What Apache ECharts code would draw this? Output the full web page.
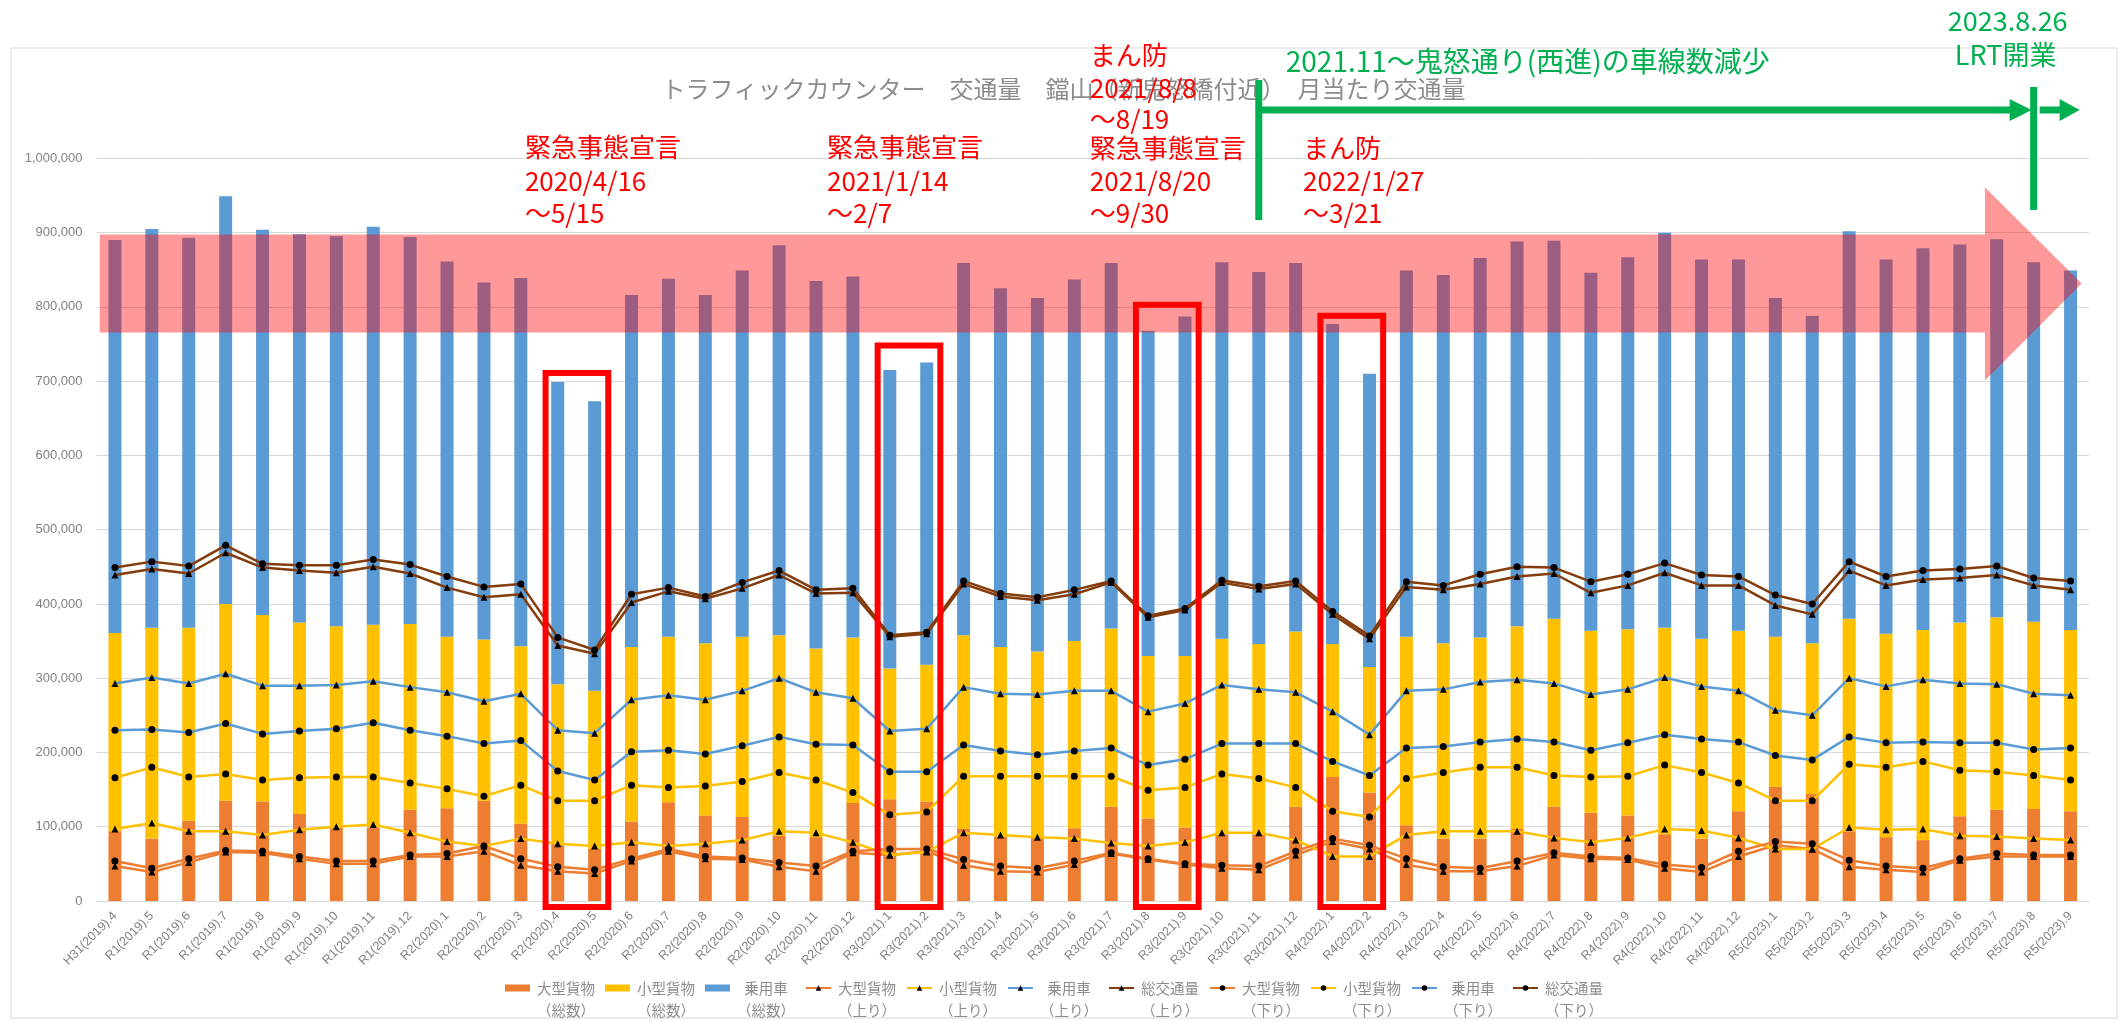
<!DOCTYPE html>
<html><head><meta charset="utf-8">
<script src="https://cdn.jsdelivr.net/npm/echarts@6/dist/echarts.min.js"></script>
<style>html,body{margin:0;padding:0;background:#fff}#c{width:2127px;height:1022px}</style>
</head><body><div id="c"></div>
<script>
const categories = ['H31(2019).4','R1(2019).5','R1(2019).6','R1(2019).7','R1(2019).8','R1(2019).9','R1(2019).10','R1(2019).11','R1(2019).12',
'R2(2020).1','R2(2020).2','R2(2020).3','R2(2020).4','R2(2020).5','R2(2020).6','R2(2020).7','R2(2020).8','R2(2020).9','R2(2020).10','R2(2020).11','R2(2020).12',
'R3(2021).1','R3(2021).2','R3(2021).3','R3(2021).4','R3(2021).5','R3(2021).6','R3(2021).7','R3(2021).8','R3(2021).9','R3(2021).10','R3(2021).11','R3(2021).12',
'R4(2022).1','R4(2022).2','R4(2022).3','R4(2022).4','R4(2022).5','R4(2022).6','R4(2022).7','R4(2022).8','R4(2022).9','R4(2022).10','R4(2022).11','R4(2022).12',
'R5(2023).1','R5(2023).2','R5(2023).3','R5(2023).4','R5(2023).5','R5(2023).6','R5(2023).7','R5(2023).8','R5(2023).9'];

// 総数 (stacked bars)
const largeTotal = [94000,84000,108000,135000,134000,117000,99000,99000,123000,125000,135000,104000,78000,70000,107000,133000,115000,113000,88000,86000,132000,137000,134000,97000,87000,86000,98000,127000,111000,99000,90000,90000,127000,167000,146000,102000,84000,84000,97000,127000,119000,115000,90000,84000,121000,154000,144000,94000,86000,82000,114000,123000,124000,121000];
const smallTotal = [267000,284000,260000,265000,251000,258000,271000,273000,250000,231000,217000,239000,214000,213000,235000,223000,232000,243000,270000,254000,223000,176000,184000,261000,255000,250000,252000,240000,219000,231000,263000,256000,236000,179000,169000,254000,263000,271000,273000,253000,245000,251000,278000,269000,243000,202000,203000,286000,274000,283000,261000,259000,252000,244000];
const carTotal = [529000,537000,525000,549000,519000,523000,525000,536000,521000,505000,481000,496000,407000,390000,474000,482000,469000,493000,525000,495000,486000,402000,407000,501000,483000,476000,487000,492000,438000,457000,507000,501000,496000,431000,395000,493000,496000,511000,518000,509000,482000,501000,532000,511000,500000,456000,441000,522000,504000,514000,509000,509000,484000,484000];

// 上り
const largeUp = [47000,39000,52000,66000,65000,57000,50000,50000,60000,60000,67000,48000,40000,37000,54000,67000,57000,56000,46000,40000,65000,62000,67000,48000,40000,39000,49000,64000,56000,49000,44000,42000,62000,80000,70000,49000,40000,40000,47000,62000,57000,56000,44000,39000,60000,75000,70000,46000,42000,39000,55000,60000,60000,60000];
const smallUp = [97000,105000,94000,94000,89000,96000,100000,103000,92000,80000,74000,84000,77000,74000,79000,74000,77000,82000,94000,92000,79000,62000,66000,92000,89000,86000,84000,78000,74000,79000,92000,92000,82000,60000,60000,89000,94000,94000,94000,85000,79000,85000,97000,95000,85000,70000,70000,99000,96000,97000,88000,87000,84000,82000];
const carUp = [293000,301000,293000,306000,290000,290000,291000,296000,288000,281000,269000,279000,230000,226000,271000,277000,271000,283000,300000,281000,273000,229000,232000,288000,279000,278000,283000,283000,255000,266000,291000,285000,281000,255000,224000,283000,285000,295000,298000,293000,278000,285000,301000,289000,283000,257000,250000,300000,289000,298000,293000,292000,279000,277000];
const allUp = [439000,447000,441000,469000,449000,445000,442000,450000,441000,422000,409000,413000,344000,333000,402000,417000,407000,421000,439000,414000,415000,356000,360000,427000,410000,405000,413000,429000,382000,392000,429000,420000,427000,386000,353000,423000,419000,427000,437000,441000,415000,425000,442000,425000,425000,398000,386000,445000,425000,433000,435000,439000,425000,419000];

// 下り
const largeDown = [54000,44000,57000,68000,67000,60000,54000,54000,62000,64000,74000,57000,46000,42000,57000,70000,60000,58000,52000,47000,67000,70000,70000,56000,47000,44000,54000,65000,57000,50000,48000,47000,67000,84000,75000,57000,46000,44000,54000,65000,60000,58000,49000,45000,67000,80000,77000,55000,47000,44000,57000,64000,62000,62000];
const smallDown = [166000,180000,167000,171000,163000,166000,167000,167000,159000,151000,141000,156000,135000,135000,156000,153000,155000,161000,173000,163000,146000,116000,120000,168000,168000,168000,168000,168000,149000,153000,171000,165000,153000,121000,113000,165000,173000,180000,180000,169000,167000,168000,183000,173000,159000,135000,135000,184000,180000,188000,176000,174000,169000,163000];
const carDown = [230000,231000,227000,239000,225000,229000,232000,240000,230000,222000,212000,216000,175000,163000,201000,203000,198000,209000,221000,211000,210000,174000,174000,210000,202000,197000,202000,206000,183000,191000,212000,212000,212000,188000,169000,206000,208000,214000,218000,214000,203000,213000,224000,218000,214000,196000,190000,221000,213000,214000,213000,213000,204000,206000];
const allDown = [449000,457000,451000,479000,454000,452000,452000,460000,453000,437000,423000,427000,355000,338000,413000,422000,410000,429000,445000,419000,421000,358000,362000,431000,414000,409000,419000,431000,384000,394000,432000,424000,431000,390000,357000,430000,425000,440000,450000,449000,430000,440000,455000,439000,437000,412000,400000,457000,437000,445000,447000,451000,435000,431000];

const yTicks = [0,100000,200000,300000,400000,500000,600000,700000,800000,900000,1000000];

const FONT = '"Noto Sans CJK JP","Noto Sans",sans-serif';
const COL = {large:'#ED7D31', small:'#FFC000', car:'#5B9BD5', all:'#843C0C'};

function bar(name, data, color){
  return {name, type:'bar', stack:'t', data, barWidth:13, itemStyle:{color}, z:2, emphasis:{disabled:true}};
}
function line(name, data, color, sym){
  return {name, type:'line', data, symbol:sym, symbolSize:7, showSymbol:true,
    lineStyle:{color, width:2.5}, itemStyle:{color:'#000'}, z:3, emphasis:{disabled:true}};
}

const chart = echarts.init(document.getElementById('c'), null, {renderer:'canvas'});
chart.setOption({
  animation:false,
  textStyle:{fontFamily:FONT},
  title:{text:'トラフィックカウンター　交通量　鐺山（新鬼怒橋付近）　月当たり交通量', left:'center', top:77, padding:0,
    textStyle:{fontSize:24, fontWeight:'normal', color:'#8c8c8c', fontFamily:FONT}},
  grid:{left:96.5, right:38, top:158.4, bottom:121},
  legend:{left:505, top:955, padding:0, itemWidth:25, itemHeight:7, itemGap:8,
    formatter: n => { const i = n.indexOf('（'); return '{e| }\n{a|' + n.slice(0,i) + '}\n{a|' + n.slice(i) + '}'; },
    textStyle:{color:'#8c8c8c', fontSize:14.5, lineHeight:22, fontFamily:FONT,
      rich:{a:{width:62, align:'center', fontSize:14.5, color:'#8c8c8c', lineHeight:22, fontFamily:FONT},
            e:{fontSize:14, lineHeight:22}}},
    data:[
      {name:'大型貨物（総数）', icon:'rect'},{name:'小型貨物（総数）', icon:'rect'},{name:'乗用車（総数）', icon:'rect'},
      '大型貨物（上り）','小型貨物（上り）','乗用車（上り）','総交通量（上り）',
      '大型貨物（下り）','小型貨物（下り）','乗用車（下り）','総交通量（下り）']},
  xAxis:{type:'category', data:categories, boundaryGap:true,
    axisTick:{show:false}, axisLine:{lineStyle:{color:'#d9d9d9', width:1}},
    axisLabel:{interval:0, rotate:45, fontSize:12.5, color:'#808080', margin:13, fontFamily:'"Liberation Sans",Arial,sans-serif'}},
  yAxis:{type:'value', min:yTicks[0], max:yTicks[yTicks.length-1], interval:100000,
    axisLine:{show:false}, axisTick:{show:false},
    splitLine:{lineStyle:{color:'#d9d9d9', width:1}},
    axisLabel:{fontSize:13, color:'#808080', margin:14, fontFamily:'"Liberation Sans",Arial,sans-serif',
      formatter: v => v.toLocaleString('en-US')}},
  series:[
    bar('大型貨物（総数）', largeTotal, COL.large),
    bar('小型貨物（総数）', smallTotal, COL.small),
    bar('乗用車（総数）', carTotal, COL.car),
    line('大型貨物（上り）', largeUp, COL.large, 'triangle'),
    line('小型貨物（上り）', smallUp, COL.small, 'triangle'),
    line('乗用車（上り）', carUp, COL.car, 'triangle'),
    line('総交通量（上り）', allUp, COL.all, 'triangle'),
    line('大型貨物（下り）', largeDown, COL.large, 'circle'),
    line('小型貨物（下り）', smallDown, COL.small, 'circle'),
    line('乗用車（下り）', carDown, COL.car, 'circle'),
    line('総交通量（下り）', allDown, COL.all, 'circle')
  ]
});

// ---- annotations placed through the axes' scales ----
const x0 = chart.convertToPixel({xAxisIndex:0}, 0);
const step = chart.convertToPixel({xAxisIndex:0}, 1) - x0;
const xf = f => x0 + f*step;
const yv = v => chart.convertToPixel({yAxisIndex:0}, v);

const RED = '#ff0000', GREEN = '#00b050';
const g = [];
// frame
g.push({type:'rect', z:0, silent:true, shape:{x:11, y:48, width:2106, height:970}, style:{fill:'none', stroke:'#d9d9d9', lineWidth:1}});
// pink arrow
g.push({type:'polygon', z:50, silent:true, shape:{points:[
  [xf(-0.41), yv(897500)], [xf(50.68), yv(897500)], [xf(50.68), yv(961000)], [xf(53.3), yv(831500)],
  [xf(50.68), yv(701000)], [xf(50.68), yv(765500)], [xf(-0.41), yv(765500)]]},
  style:{fill:'rgba(255,0,0,0.4)'}});
// red boxes
[[12,711000],[21,748000],[28,803000],[33,788000]].forEach(([i,top]) => {
  const xa = xf(i-0.33), xb = xf(i+1.37), ya = yv(top), yb = yv(-8000);
  g.push({type:'rect', z:60, silent:true, shape:{x:xa, y:ya, width:xb-xa, height:yb-ya},
    style:{fill:'none', stroke:RED, lineWidth:6}});
});
// texts
function txt(t, x, y, color, size, align){
  g.push({type:'text', z:70, silent:true, x, y, style:{text:t, fill:color, font:size+'px '+FONT, align:align||'left', verticalAlign:'middle'}});
}
const redBlocks = [
  [11.11, [[147,'緊急事態宣言'],[181,'2020/4/16'],[213,'～5/15']]],
  [19.30, [[147,'緊急事態宣言'],[181,'2021/1/14'],[213,'～2/7']]],
  [26.42, [[55,'まん防'],[88,'2021/8/8'],[119,'～8/19'],[148,'緊急事態宣言'],[181,'2021/8/20'],[213,'～9/30']]],
  [32.20, [[148,'まん防'],[181,'2022/1/27'],[213,'～3/21']]]
];
redBlocks.forEach(([f, lines]) => lines.forEach(([y,t]) => txt(t, xf(f), y, RED, 26)));

// green arrows
const xg1 = xf(31), xg2 = xf(52), ya = 110;
g.push({type:'line', z:80, silent:true, shape:{x1:xg1, y1:80, x2:xg1, y2:220}, style:{stroke:GREEN, lineWidth:7}});
g.push({type:'line', z:80, silent:true, shape:{x1:xg1, y1:ya, x2:xg2-22, y2:ya}, style:{stroke:GREEN, lineWidth:7}});
g.push({type:'polygon', z:80, silent:true, shape:{points:[[xg2-24, ya-11],[xg2-2, ya],[xg2-24, ya+11]]}, style:{fill:GREEN}});
g.push({type:'line', z:80, silent:true, shape:{x1:xg2, y1:87, x2:xg2, y2:210}, style:{stroke:GREEN, lineWidth:7}});
g.push({type:'line', z:80, silent:true, shape:{x1:xg2+6, y1:ya, x2:xg2+28, y2:ya}, style:{stroke:GREEN, lineWidth:7}});
g.push({type:'polygon', z:80, silent:true, shape:{points:[[xg2+26, ya-11],[xg2+46, ya],[xg2+26, ya+11]]}, style:{fill:GREEN}});
txt('2021.11～鬼怒通り(西進)の車線数減少', xg1+27, 61, GREEN, 28);
txt('2023.8.26', xg2-26, 21, GREEN, 27, 'center');
txt('LRT開業', xg2-28, 55, GREEN, 27, 'center');

chart.setOption({graphic:{elements:g}});
</script></body></html>
